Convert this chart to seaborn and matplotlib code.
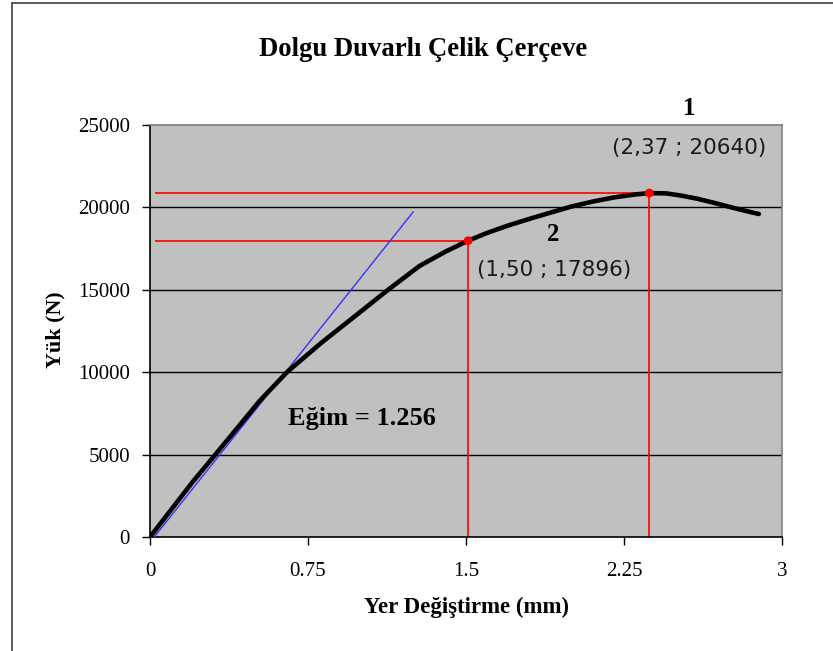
import matplotlib
matplotlib.use("Agg")
import matplotlib.pyplot as plt
import seaborn as sns
import pandas as pd

# --- data ---
disp_mm = [0.00, 0.10, 0.20, 0.31, 0.42, 0.52, 0.65, 0.81, 0.97, 1.13, 1.28,
           1.40, 1.51, 1.60, 1.70, 1.80, 1.90, 2.00, 2.10, 2.20, 2.30, 2.37,
           2.45, 2.52, 2.60, 2.68, 2.76, 2.84, 2.89]
load_n = [0, 1650, 3300, 5000, 6700, 8250, 10000, 11750, 13370, 15000, 16450,
          17300, 17980, 18450, 18900, 19300, 19680, 20050, 20350, 20600, 20780, 20870,
          20850, 20720, 20520, 20270, 20000, 19750, 19600]

slope_x = [0.02, 1.25]
slope_y = [0, 19740]

pt_x = [2.37, 1.51]
pt_y = [20870, 17980]
pt_num = ["1", "2"]
pt_text = ["(2,37 ; 20640)", "(1,50 ; 17896)"]
pt_num_pos = [(2.558, 26030), (1.916, 18330)]
pt_text_pos = [(2.558, 23600), (1.92, 16200)]

x_ticks = [0, 0.75, 1.5, 2.25, 3]
x_tick_labels = ["0", "0.75", "1.5", "2.25", "3"]
y_ticks = [0, 5000, 10000, 15000, 20000, 25000]

title = "Dolgu Duvarlı Çelik Çerçeve"
x_label = "Yer Değiştirme (mm)"
y_label = "Yük (N)"
slope_label = "Eğim = 1.256"

df = pd.DataFrame({"x": disp_mm, "y": load_n})

sns.set_style("white")
plt.rcParams["font.family"] = ["Liberation Serif", "DejaVu Serif"]
for key in ["text.color", "axes.labelcolor", "xtick.color", "ytick.color"]:
    plt.rcParams[key] = "black"

fig = plt.figure(figsize=(8.33, 6.51), dpi=100)
ax = fig.add_axes([150 / 833, 1 - 537 / 651, 632 / 833, 412 / 651])
ax.set_facecolor("#c0c0c0")

# figure frame (left and top edges visible)
fig.add_artist(plt.Line2D([12 / 833, 12 / 833], [0, 1 - 3 / 651], color="#404040", lw=1.2))
fig.add_artist(plt.Line2D([12 / 833, 1], [1 - 3 / 651, 1 - 3 / 651], color="#404040", lw=1.2))

for yv in y_ticks[1:-1]:
    ax.axhline(yv, color="black", lw=1, zorder=1)

# red guide lines
for px, py in zip(pt_x, pt_y):
    ax.hlines(py, 0.024, px, color="#ff0000", lw=1.2, zorder=2)
    ax.vlines(px, 0, py, color="#ff0000", lw=1.2, zorder=2)

sns.lineplot(x=slope_x, y=slope_y, color="#3333ff", lw=1, ax=ax, zorder=3)
sns.lineplot(data=df, x="x", y="y", sort=False, estimator=None, color="black", lw=3.3, ax=ax, zorder=4)
sns.scatterplot(x=pt_x, y=pt_y, color="#ff0000", s=40, edgecolor="none", ax=ax, zorder=5)

for num, txt, (nx, ny), (tx, ty) in zip(pt_num, pt_text, pt_num_pos, pt_text_pos):
    ax.text(nx, ny, num, ha="center", va="center", fontsize=18, fontweight="bold", clip_on=False)
    ax.text(tx, ty, txt, ha="center", va="center", fontsize=15.5, family=["DejaVu Sans"], color="#1a1a1a")

ax.text(0.656, 7220, slope_label, ha="left", va="center", fontsize=19, fontweight="bold")

ax.set_xlim(0, 3)
ax.set_ylim(0, 25000)
ax.set_xticks(x_ticks)
ax.set_xticklabels(x_tick_labels)
ax.set_yticks(y_ticks)
ax.set_xlabel("")
ax.set_ylabel("")
ax.tick_params(axis="both", direction="out", length=5.8, width=1, color="black",
               labelsize=15, bottom=True, left=True)
ax.tick_params(axis="x", pad=12.5)
ax.tick_params(axis="y", pad=8.6)

for side in ["left", "bottom"]:
    ax.spines[side].set_color("black")
    ax.spines[side].set_linewidth(1.2)
for side in ["top", "right"]:
    ax.spines[side].set_color("#808080")
    ax.spines[side].set_linewidth(1.2)

fig.text(466 / 833, 1 - 607 / 651, x_label, ha="center", va="center", fontsize=16.5, fontweight="bold")
fig.text(55 / 833, 1 - 330 / 651, y_label, ha="center", va="center", rotation=90, fontsize=15.8, fontweight="bold")
fig.text(423 / 833, 1 - 50 / 651, title, ha="center", va="center", fontsize=19.2, fontweight="bold")

fig.savefig("out.png", dpi=100)
